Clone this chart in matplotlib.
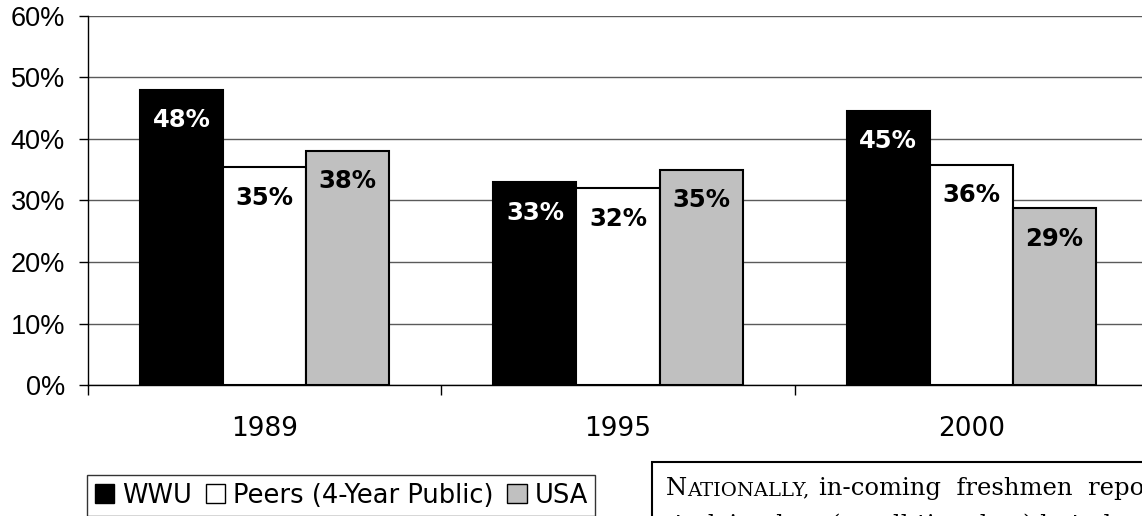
import matplotlib
matplotlib.use("Agg")
import matplotlib.pyplot as plt
from matplotlib.patches import Patch, Rectangle
import numpy as np

years = ["1989", "1995", "2000"]
series_names = ["WWU", "Peers (4-Year Public)", "USA"]
wwu = [48, 33, 44.6]
peers = [35.4, 32, 35.8]
usa = [38.1, 35, 28.7]
wwu_labels = ["48%", "33%", "45%"]
peers_labels = ["35%", "32%", "36%"]
usa_labels = ["38%", "35%", "29%"]
yticks = [0, 10, 20, 30, 40, 50, 60]

plt.rcParams['font.family'] = ['Liberation Sans', 'DejaVu Sans']

W, H = 1142, 516
fig = plt.figure(figsize=(W/100, H/100), dpi=100)
ax = fig.add_axes([88/W, 1-385/H, 1060/W, (385-16)/H])

x = np.arange(len(years))
w = 0.235
colors = ["#000000", "#ffffff", "#c0c0c0"]
series = [wwu, peers, usa]
labels = [wwu_labels, peers_labels, usa_labels]
txtcol = ["white", "black", "black"]
for i, (vals, c) in enumerate(zip(series, colors)):
    bars = ax.bar(x + (i-1)*w, vals, width=w, color=c, edgecolor="black",
                  linewidth=1.5, zorder=3)
    for b, lab in zip(bars, labels[i]):
        ax.annotate(lab, (b.get_x()+b.get_width()/2, b.get_height()),
                    xytext=(0, -22), textcoords="offset points",
                    ha="center", va="center", fontsize=17.5, fontweight="bold",
                    family="DejaVu Sans", color=txtcol[i], zorder=4)

ax.set_xlim(-0.5, 2.5)
ax.set_ylim(0, 60)
ax.set_yticks(yticks)
ax.set_yticklabels([f"{v}%" for v in yticks], fontsize=19.5)
ax.yaxis.grid(True, color="#5a5a5a", linewidth=1, zorder=0)
ax.set_axisbelow(True)
ax.tick_params(axis="y", length=6.5, width=1, direction="out", pad=10)

ax.set_xticks([-0.5, 0.5, 1.5])
ax.set_xticklabels([])
ax.tick_params(axis="x", length=7, width=1, direction="out")
for xi, yr in zip(x, years):
    ax.text(xi, -0.119, yr, transform=ax.get_xaxis_transform(), ha="center",
            va="center", fontsize=19, family="DejaVu Sans")

for s in ["top", "right"]:
    ax.spines[s].set_visible(False)
ax.spines["left"].set_linewidth(1)
ax.spines["bottom"].set_linewidth(1)

handles = [Patch(facecolor=c, edgecolor="black", linewidth=1) for c in colors]
leg = fig.legend(handles, series_names, loc="upper left",
                 bbox_to_anchor=(87/W, 1-475/H), ncol=3,
                 prop={"family": "DejaVu Sans", "size": 18.5},
                 frameon=True, fancybox=False, borderaxespad=0,
                 handlelength=0.75, handleheight=0.75, handletextpad=0.3,
                 columnspacing=0.55, borderpad=0.3)
leg.get_frame().set_edgecolor("black")
leg.get_frame().set_linewidth(1)

# text box at lower right (cropped)
fig.patches.append(Rectangle((652/W, -0.2), 0.5, 0.2 + (516-462)/H,
                             transform=fig.transFigure, fill=False,
                             edgecolor="black", linewidth=1.5))
serif = "DejaVu Serif"
t1 = fig.text(666/W, 1-495/H, "N", fontsize=17.5, family=serif, va="baseline")
fig.canvas.draw()
r = fig.canvas.get_renderer()
bb = t1.get_window_extent(r)
t2 = fig.text(bb.x1/W, 1-495/H, "ATIONALLY,", fontsize=14,
              family=serif, va="baseline")
bb2 = t2.get_window_extent(r)
fig.text(bb2.x1/W + 0.008, 1-495/H,
         "in-coming  freshmen  report", fontsize=17.5, family=serif,
         va="baseline")
fig.text(662/W, 1-532/H, "studying less (an all-time low) but also report",
         fontsize=17.5, family=serif, va="baseline")

fig.savefig("out.png", dpi=100)
